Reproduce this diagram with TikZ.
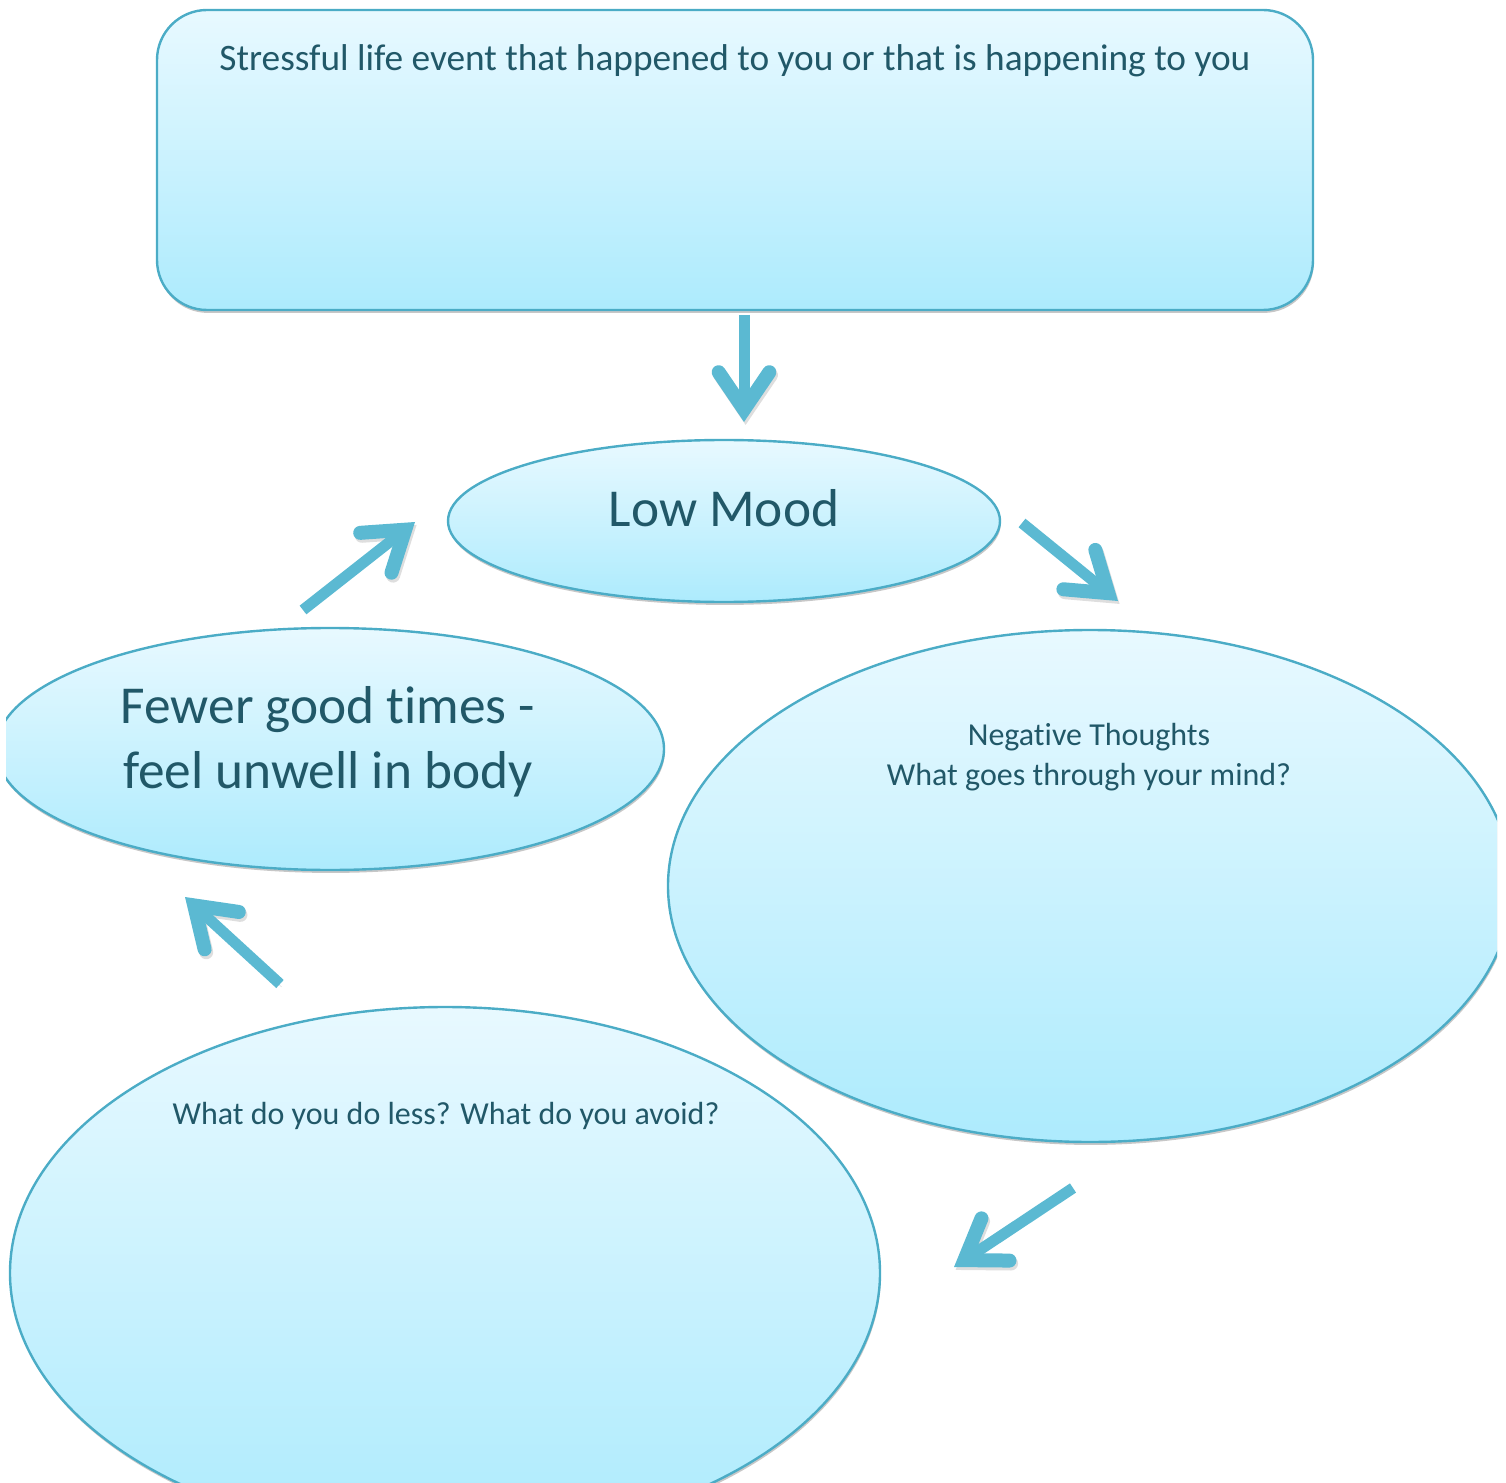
\documentclass[tikz,border=0pt]{standalone}
\usepackage{fontspec}
\setmainfont[Ligatures=NoCommon]{Carlito}
\usetikzlibrary{arrows.meta,shadows,shapes.geometric}
\definecolor{txt}{HTML}{215868}
\definecolor{edgec}{HTML}{4BACC6}
\definecolor{arr}{HTML}{5BB9D2}
\definecolor{ftop}{HTML}{E8F9FF}
\definecolor{fbot}{HTML}{ADEBFD}
\tikzset{
  shapebase/.style={draw=edgec, line width=1.8pt, top color=ftop, bottom color=fbot, inner sep=0pt,
    drop shadow={shadow xshift=0.6pt, shadow yshift=-2.2pt, fill=black, opacity=0.22}},
  eventbox/.style={shapebase, rectangle, rounded corners=37.5pt},
  oval/.style={shapebase, ellipse},
  smalltext/.style={text=txt, font=\fontsize{24pt}{29.5pt}\selectfont, align=center, inner sep=0pt},
  titletext/.style={text=txt, font=\fontsize{28pt}{34pt}\selectfont, align=center, inner sep=0pt},
  bigtext/.style={text=txt, font=\fontsize{40pt}{49pt}\selectfont, align=center, inner sep=0pt},
  arrowtip/.style={-{Straight Barb[length=28pt, width=38pt, line width=10.5pt, line cap=round, line join=miter]}},
  flowarrow/.style={draw=arr, line width=8.25pt, line cap=butt, arrowtip,
    preaction={draw=black!13, transform canvas={shift={(1.2pt,-2.2pt)}}}}
}
\begin{document}
\begin{tikzpicture}[x=0.75pt,y=-0.75pt]
\useasboundingbox (0,0) rectangle (1506,1483);
\clip (6,-10) rectangle (1497,1483);
% shapes
\node[eventbox, minimum width=867pt, minimum height=225pt] (event) at (735,160) {};
\node[oval, minimum width=414pt, minimum height=121.5pt] (mood) at (724,521) {};
\node[oval, minimum width=633pt, minimum height=384pt] (thoughts) at (1090,886) {};
\node[oval, minimum width=501pt, minimum height=181.5pt] (body) at (330,749) {};
\node[oval, minimum width=652.5pt, minimum height=399pt] (avoid) at (445,1273) {};
% texts
\node[titletext] (eventtxt) at (735,61) {Stressful life event that happened to you or that is happening to you};
\node[bigtext] (moodtxt) at (724,508) {Low Mood};
\node[bigtext] (bodytxt) at (328,742) {Fewer good times -\\feel unwell in body};
\node[smalltext] (thoughtstxt) at (1089,757) {Negative Thoughts\\What goes through your mind?};
\node[smalltext] (avoidtxt) at (446,1116) {What do you do less? What do you avoid?};
% arrow end points
\coordinate (a1s) at (744,315); \coordinate (a1e) at (744,422);
\coordinate (a2s) at (1022,523); \coordinate (a2e) at (1118,601);
\coordinate (a3s) at (1073,1188); \coordinate (a3e) at (954,1267);
\coordinate (a4s) at (280,984); \coordinate (a4e) at (185,897);
\coordinate (a5s) at (303,610); \coordinate (a5e) at (415,522);
\draw[flowarrow] (a1s) -- (a1e);
\draw[flowarrow] (a2s) -- (a2e);
\draw[flowarrow] (a3s) -- (a3e);
\draw[flowarrow] (a4s) -- (a4e);
\draw[flowarrow] (a5s) -- (a5e);
\end{tikzpicture}
\end{document}
